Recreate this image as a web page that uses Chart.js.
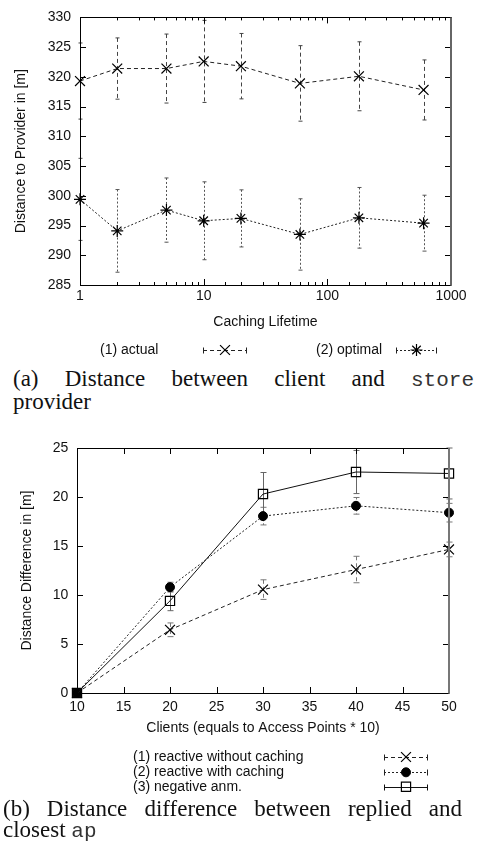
<!DOCTYPE html>
<html lang="en">
<head>
<meta charset="UTF-8">
<title>Distance to provider / distance difference</title>
<script src="https://cdn.jsdelivr.net/npm/chart.js"></script>
<style>
  body { margin: 0; background: #fff; width: 477px; height: 854px; position: relative; overflow: hidden; }
  canvas { position: absolute; left: 0; }
  #chartA { top: 0; }
  #chartB { top: 420px; }
  .cap { position: absolute; font-family: 'Liberation Serif', 'Times New Roman', serif; font-size: 23px; color: #111; }
  .cap div { white-space: nowrap; }
  .cap .full { text-align: justify; text-align-last: justify; }
  .cap tt { font-family: 'Liberation Mono', 'Courier New', monospace; font-size: 21px; line-height: 0; color: #333; }
  #capA { left: 13px; width: 461px; top: 367px; line-height: 23px; }
  #capB { left: 3px; width: 459px; top: 799px; line-height: 20.6px; }
</style>
</head>
<body>
  <canvas id="chartA" width="477" height="365"></canvas>
  <div class="cap" id="capA">
    <div class="full">(a) Distance between client and <tt>store</tt></div>
    <div>provider</div>
  </div>

  <canvas id="chartB" width="477" height="380"></canvas>
  <div class="cap" id="capB">
    <div class="full">(b) Distance difference between replied and</div>
    <div>closest <tt>ap</tt></div>
  </div>

<script>
// (a) values
const lifetimes = [1, 2, 5, 10, 20, 60, 180, 600];
const actualMean = [319.3, 321.4, 321.4, 322.6, 321.8, 318.9, 320.1, 317.8];
const actualErr = [6.4, 5.15, 5.8, 6.9, 5.5, 6.35, 5.8, 5.05];
const optimalMean = [299.4, 294.1, 297.6, 295.8, 296.2, 293.5, 296.3, 295.4];
const optimalErr = [6.9, 6.95, 5.4, 6.55, 4.8, 6.0, 5.1, 4.7];
const lifetimeLabels = [1, 10, 100, 1000];

// (b)
const clients = [10, 20, 30, 40, 50];
const noCacheMean = [0, 6.45, 10.55, 12.6, 14.65];
const noCacheErr = [0, 0.7, 1.0, 1.35, 0.75];
const cacheMean = [0, 10.8, 18.05, 19.1, 18.4];
const cacheErr = [0, 0.5, 0.9, 0.85, 0.95];
const negMean = [0, 9.4, 20.3, 22.55, 22.4];
const negErr = [0, 1.0, 2.2, 2.2, 2.6];

Chart.defaults.font.family = "'Liberation Sans', Arial, sans-serif";
Chart.defaults.font.size = 14;
Chart.defaults.color = '#111';

function points(xs, ys) {
  return xs.map((v, i) => ({ x: v, y: ys[i] }));
}

// gnuplot style border with ticks pointing inwards, on all four sides
const framePlugin = {
  id: 'frame',
  afterDraw(chart, args, opts) {
    const { ctx, chartArea: a } = chart;
    const x = chart.scales.x, y = chart.scales.y;
    const r = v => Math.round(v) + 0.5;
    ctx.save();
    ctx.setLineDash([]);
    ctx.strokeStyle = '#000';
    ctx.lineWidth = 1;
    ctx.beginPath();
    x.ticks.forEach(t => {
      const major = x.type !== 'logarithmic' || Number.isInteger(Math.round(Math.log10(t.value) * 1e6) / 1e6);
      const len = major ? 6 : 3;
      const px = r(x.getPixelForValue(t.value));
      ctx.moveTo(px, a.bottom); ctx.lineTo(px, a.bottom - len);
      ctx.moveTo(px, a.top); ctx.lineTo(px, a.top + len);
    });
    y.ticks.forEach(t => {
      const py = r(y.getPixelForValue(t.value));
      ctx.moveTo(a.left, py); ctx.lineTo(a.left + 6, py);
      ctx.moveTo(a.right, py); ctx.lineTo(a.right - 6, py);
    });
    ctx.stroke();
    // border
    ctx.beginPath();
    ctx.moveTo(r(a.right), r(a.top));
    ctx.lineTo(r(a.left), r(a.top));
    ctx.lineTo(r(a.left), r(a.bottom));
    ctx.lineTo(r(a.right), r(a.bottom));
    ctx.stroke();
    ctx.strokeStyle = opts.rightColor || '#000';
    ctx.lineWidth = 2;
    ctx.beginPath();
    ctx.moveTo(Math.round(a.right), a.top);
    ctx.lineTo(Math.round(a.right), a.bottom + 0.5);
    ctx.stroke();
    ctx.restore();
  }
};

// vertical error bars with small caps
const errorBarPlugin = {
  id: 'errorBars',
  beforeDatasetsDraw(chart) {
    const { ctx, chartArea: a } = chart;
    const x = chart.scales.x, y = chart.scales.y;
    ctx.save();
    ctx.beginPath();
    ctx.rect(a.left - 6, a.top - 1, a.width + 12, a.height + 2);
    ctx.clip();
    chart.data.datasets.forEach(ds => {
      if (!ds.errors) return;
      const cap = ds.capWidth || 2;
      ctx.strokeStyle = ds.errorColor || '#555';
      ctx.lineWidth = 1;
      ds.data.forEach((p, i) => {
        const e = ds.errors[i];
        if (!e) return;
        const px = Math.round(x.getPixelForValue(p.x)) + 0.5;
        const top = y.getPixelForValue(p.y + e);
        const bot = y.getPixelForValue(p.y - e);
        ctx.setLineDash(ds.borderDash || []);
        ctx.beginPath();
        ctx.moveTo(px, top); ctx.lineTo(px, bot);
        ctx.stroke();
        ctx.setLineDash([]);
        ctx.beginPath();
        ctx.moveTo(px - cap, top); ctx.lineTo(px + cap, top);
        ctx.moveTo(px - cap, bot); ctx.lineTo(px + cap, bot);
        ctx.stroke();
      });
    });
    ctx.restore();
  }
};

// legend like gnuplot's key: text, then a sample line with caps and the marker
const keyPlugin = {
  id: 'gpKey',
  afterDraw(chart, args, opts) {
    const ctx = chart.ctx;
    ctx.save();
    (opts.items || []).forEach(it => {
      const ds = chart.data.datasets[it.ds];
      ctx.fillStyle = '#111';
      ctx.font = "14px 'Liberation Sans', Arial, sans-serif";
      ctx.textAlign = 'left';
      ctx.textBaseline = 'middle';
      ctx.fillText(it.text, it.tx, it.y);
      const y = Math.round(it.y) + 0.5;
      ctx.strokeStyle = ds.borderColor;
      ctx.lineWidth = 1;
      ctx.setLineDash(ds.borderDash || []);
      ctx.beginPath();
      ctx.moveTo(it.s0, y); ctx.lineTo(it.s1, y);
      ctx.stroke();
      ctx.setLineDash([]);
      ctx.beginPath();
      ctx.moveTo(it.s0 + 0.5, y - 3); ctx.lineTo(it.s0 + 0.5, y + 3);
      ctx.moveTo(it.s1 - 0.5, y - 3); ctx.lineTo(it.s1 - 0.5, y + 3);
      ctx.stroke();
      ctx.fillStyle = ds.pointBackgroundColor || 'rgba(0,0,0,0)';
      ctx.strokeStyle = ds.pointBorderColor || '#000';
      ctx.lineWidth = ds.pointBorderWidth || 1;
      Chart.helpers.drawPoint(ctx, {
        pointStyle: ds.pointStyle, radius: ds.pointRadius, rotation: 0,
        borderWidth: ds.pointBorderWidth || 1
      }, (it.s0 + it.s1) / 2, it.y);
    });
    ctx.restore();
  }
};

function axisCommon() {
  return {
    grid: { display: false, drawTicks: false },
    border: { display: false }
  };
}

new Chart(document.getElementById('chartA'), {
  type: 'line',
  data: {
    datasets: [
      {
        label: '(1) actual',
        data: points(lifetimes, actualMean),
        errors: actualErr,
        errorColor: '#444',
        borderColor: '#222',
        borderWidth: 1,
        borderDash: [4, 3],
        pointStyle: 'crossRot',
        pointRadius: 7,
        pointBorderWidth: 1.2,
        pointBorderColor: '#000',
        pointBackgroundColor: 'rgba(0,0,0,0)',
        fill: false,
        clip: false
      },
      {
        label: '(2) optimal',
        data: points(lifetimes, optimalMean),
        errors: optimalErr,
        errorColor: '#555',
        borderColor: '#222',
        borderWidth: 1,
        borderDash: [2, 2],
        pointStyle: 'star',
        pointRadius: 6,
        pointBorderWidth: 1.2,
        pointBorderColor: '#000',
        pointBackgroundColor: 'rgba(0,0,0,0)',
        fill: false,
        clip: false
      }
    ]
  },
  options: {
    responsive: false,
    animation: false,
    events: [],
    layout: { padding: { left: 0, right: 26, top: 11, bottom: 32 } },
    scales: {
      x: {
        type: 'logarithmic',
        min: 1,
        max: 1000,
        ...axisCommon(),
        ticks: {
          autoSkip: false,
          maxRotation: 0,
          padding: 3,
          callback: v => lifetimeLabels.includes(Math.round(v)) && Math.abs(v - Math.round(v)) < 1e-9 ? String(Math.round(v)) : ''
        },
        title: { display: true, text: 'Caching Lifetime', padding: { top: 0, bottom: 2.6 } },
        afterFit: s => { s.height = 48; }
      },
      y: {
        min: 285,
        max: 330,
        ...axisCommon(),
        ticks: { stepSize: 5, padding: 9 },
        title: { display: true, text: 'Distance to Provider in [m]', padding: { top: 12.6, bottom: 0 } },
        afterFit: s => { s.width = 80; }
      }
    },
    plugins: {
      legend: { display: false },
      tooltip: { enabled: false },
      frame: { rightColor: '#666' },
      gpKey: {
        items: [
          { ds: 0, text: '(1) actual', tx: 100, y: 350, s0: 203, s1: 247 },
          { ds: 1, text: '(2) optimal', tx: 316, y: 350, s0: 396, s1: 437 }
        ]
      }
    }
  },
  plugins: [errorBarPlugin, framePlugin, keyPlugin]
});

new Chart(document.getElementById('chartB'), {
  type: 'line',
  data: {
    datasets: [
      {
        label: '(1) reactive without caching',
        data: points(clients, noCacheMean),
        errors: noCacheErr,
        errorColor: '#777',
        capWidth: 3,
        borderColor: '#222',
        borderWidth: 1,
        borderDash: [4, 3],
        pointStyle: 'crossRot',
        pointRadius: 7,
        pointBorderWidth: 1.2,
        pointBorderColor: '#000',
        pointBackgroundColor: 'rgba(0,0,0,0)',
        fill: false,
        clip: false
      },
      {
        label: '(2) reactive with caching',
        data: points(clients, cacheMean),
        errors: cacheErr,
        errorColor: '#777',
        capWidth: 3,
        borderColor: '#222',
        borderWidth: 1,
        borderDash: [2, 2],
        pointStyle: 'circle',
        pointRadius: 4.5,
        pointBorderWidth: 1,
        pointBorderColor: '#000',
        pointBackgroundColor: '#000',
        fill: false,
        clip: false
      },
      {
        label: '(3) negative anm.',
        data: points(clients, negMean),
        errors: negErr,
        errorColor: '#666',
        capWidth: 3,
        borderColor: '#111',
        borderWidth: 1,
        borderDash: [],
        pointStyle: 'rect',
        pointRadius: 6.5,
        pointBorderWidth: 1.2,
        pointBorderColor: '#000',
        pointBackgroundColor: 'rgba(0,0,0,0)',
        fill: false,
        clip: false
      }
    ]
  },
  options: {
    responsive: false,
    animation: false,
    events: [],
    layout: { padding: { left: 0, right: 28, top: 28, bottom: 62 } },
    scales: {
      x: {
        type: 'linear',
        min: 10,
        max: 50,
        ...axisCommon(),
        ticks: { stepSize: 5, padding: 5.6, maxRotation: 0, autoSkip: false },
        title: { display: true, text: 'Clients (equals to Access Points * 10)', padding: { top: 0, bottom: 1.6 } },
        afterFit: s => { s.height = 45; }
      },
      y: {
        min: 0,
        max: 25,
        ...axisCommon(),
        ticks: { stepSize: 5, padding: 8.7 },
        title: { display: true, text: 'Distance Difference in [m]', padding: { top: 18.6, bottom: 0 } },
        afterFit: s => { s.width = 77; }
      }
    },
    plugins: {
      legend: { display: false },
      tooltip: { enabled: false },
      frame: { rightColor: '#777' },
      gpKey: {
        items: [
          { ds: 0, text: '(1) reactive without caching', tx: 133, y: 337, s0: 384, s1: 428 },
          { ds: 1, text: '(2) reactive with caching', tx: 133, y: 352.3, s0: 384, s1: 428 },
          { ds: 2, text: '(3) negative anm.', tx: 133, y: 366.7, s0: 384, s1: 428 }
        ]
      }
    }
  },
  plugins: [errorBarPlugin, framePlugin, keyPlugin]
});
</script>
</body>
</html>
